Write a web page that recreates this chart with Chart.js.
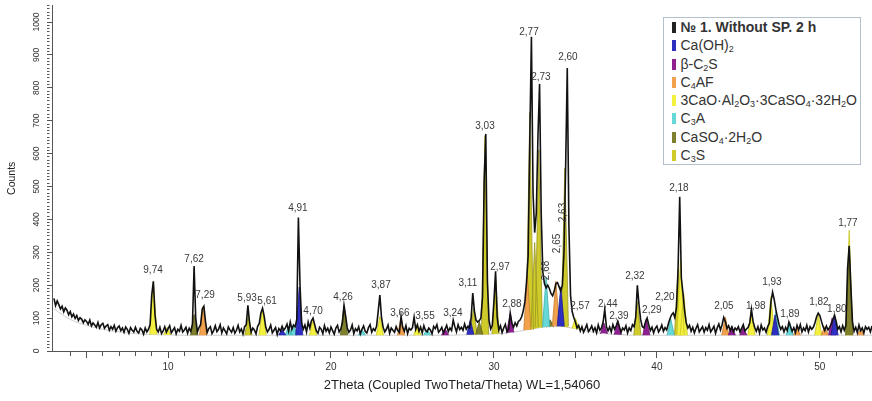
<!DOCTYPE html>
<html>
<head>
<meta charset="utf-8">
<script src="https://cdn.jsdelivr.net/npm/chart.js@4.4.1/dist/chart.umd.min.js"></script>
<style>
  body { margin: 0; background: #fff; }
  #wrap { position: relative; width: 872px; height: 401px; }
  #legend {
    position: absolute; left: 663px; top: 17px; width: 196px; height: 146px;
    border: 1px solid #b4bfcc; background: #fff; color: #333;
    font: 14px "Liberation Sans", Arial, sans-serif;
  }
  #legend .row { height: 18.3px; line-height: 18.3px; white-space: nowrap; }
  #legend .mk { display: inline-block; width: 3.5px; height: 11px; margin: 0 5px 0 8px; vertical-align: -1px; }
  #legend sub { font-size: 9px; vertical-align: -2px; line-height: 0; }
</style>
</head>
<body>
<div id="wrap">
  <canvas id="xrd" width="872" height="401"></canvas>
  <div id="legend"></div>
</div>
<script>
// measured pattern: start 2theta, step, counts
const twoThetaStart = 3.0;
const twoThetaStep = 0.1;
const counts = [
  160,138,152,141,128,136,119,131,124,110,
  120,104,112,99,108,93,101,97,86,95,
  90,81,94,76,85,79,72,87,70,80,
  84,69,76,80,63,74,66,78,60,71,
  76,62,70,57,73,66,54,71,63,58,
  72,60,55,69,64,51,70,58,66,80,
  170,212,110,66,58,72,53,61,74,57,
  68,77,55,63,71,52,66,60,78,58,
  64,72,54,69,60,82,258,100,58,71,
  80,128,136,90,56,68,74,53,62,77,
  59,66,80,55,70,61,52,73,64,57,
  71,54,63,78,58,67,52,74,80,139,
  88,57,70,64,52,75,84,116,130,106,
  72,58,66,79,55,63,71,50,68,61,
  75,63,70,82,60,88,66,79,74,96,
  406,200,84,66,79,58,88,70,92,100,
  80,61,54,72,66,53,77,60,69,55,
  73,62,51,70,78,58,66,86,139,106,
  70,57,64,79,53,68,61,74,52,66,
  76,60,55,71,80,57,68,62,76,122,
  170,102,72,58,66,79,54,70,63,57,
  74,62,56,105,72,60,77,53,69,64,
  71,103,66,80,60,73,55,77,62,58,
  70,64,52,75,68,80,57,63,72,55,
  66,78,59,70,62,94,74,58,80,65,
  72,63,82,66,75,70,100,176,122,94,
  88,92,100,165,520,660,210,92,67,78,
  150,242,102,64,77,56,70,81,58,66,
  115,84,72,86,76,90,94,104,122,150,
  210,290,640,955,480,360,420,650,812,420,
  240,205,192,200,190,175,168,182,205,208,
  195,182,200,300,560,860,380,170,120,102,
  88,70,78,61,74,57,68,80,59,66,
  76,60,71,55,79,63,70,88,127,74,
  61,73,58,80,66,76,90,74,57,70,
  64,77,55,70,62,80,74,102,200,142,
  96,74,70,88,100,80,62,72,55,69,
  76,58,66,79,60,71,64,82,98,110,
  116,102,132,250,469,222,176,122,86,70,
  78,60,72,55,69,80,58,66,74,57,
  71,63,80,58,66,75,54,70,82,64,
  80,102,90,68,77,62,73,58,70,64,
  74,58,69,80,61,67,72,86,127,90,
  72,60,74,55,79,64,70,57,74,84,
  150,179,156,126,102,80,66,74,58,72,
  62,88,74,60,71,56,78,64,80,58,
  70,62,78,58,74,66,72,86,104,115,
  108,90,74,62,76,64,72,82,96,109,
  90,66,74,58,77,63,78,250,320,200,
  90,60,72,56,79,62,70,55,74,66,
  72,58,76
];

// background line, one value per degree from 3
const bgStart = 3;
const bgCounts = [128,96,78,66,58,53,50,49,48,48,
  48,48,48,48,48,48,48,48,48,48,
  48,48,48,48,48,49,50,52,56,64,
  72,75,68,58,52,49,48,48,48,48,
  48,48,48,48,48,48,48,48,48,48,
  48,48];

// phases: peak positions (2theta) and heights (counts)
const phaseNames = ['Ca(OH)₂', 'β-C₂S', 'C₄AF', '3CaO·Al₂O₃·3CaSO₄·32H₂O', 'C₃A', 'CaSO₄·2H₂O', 'C₃S'];

const caohTheta = [17.0, 18.05, 28.55, 34.1, 47.25, 50.9];
const caohCounts = [66, 194, 95, 195, 110, 109];

const c2sTheta = [27.0, 31.0, 36.75, 37.6, 39.35, 44.6, 45.3, 50.75];
const c2sCounts = [68, 115, 85, 92, 98, 76, 72, 100];

const c4afTheta = [12.15, 24.3, 32.05, 33.8, 44.2, 48.6, 50.3, 52.5];
const c4afCounts = [135, 100, 230, 212, 103, 70, 74, 66];

const ettrTheta = [9.1, 9.95, 15.8, 18.9, 23.0, 25.3, 35.0, 41.45, 41.65, 45.8, 47.0, 49.9, 51.8];
const ettrCounts = [212, 72, 128, 98, 105, 82, 100, 281, 175, 122, 165, 110, 367];

const c3aTheta = [17.4, 17.7, 21.9, 25.9, 33.2, 40.85, 47.3, 48.15];
const c3aCounts = [75, 80, 66, 66, 225, 98, 120, 88];

const gypsTheta = [11.6, 20.8, 29.1, 33.45, 51.8];
const gypsCounts = [111, 139, 90, 95, 315];

const c3sTheta = [14.93, 28.75, 29.45, 30.1, 32.2, 32.5, 32.75, 34.35, 38.8, 41.3];
const c3sCounts = [108, 130, 655, 225, 725, 330, 611, 556, 150, 250];

// peak labels (d, A)
const peakLabels = ['9,74','7,62','7,29','5,93','5,61','4,91','4,70','4,26','3,87','3,66','3,55','3,24',
  '3,11','3,03','2,97','2,88','2,77','2,73','2,60','2,57','2,44','2,39','2,32','2,29','2,20','2,18',
  '2,05','1,98','1,93','1,89','1,82','1,80','1,77'];
const labelTheta = [9.08,11.6,12.27,14.85,16.08,17.97,18.9,20.74,23.07,24.23,25.77,27.48,
  28.4,29.45,30.37,31.1,32.15,32.88,34.54,35.28,36.99,37.67,38.65,39.69,40.49,41.35,
  44.11,46.07,47.06,48.16,49.94,51.04,51.72];
const labelCounts = [245,279,170,160,152,433,121,164,200,115,106,115,
  206,682,255,142,970,833,894,136,142,106,227,124,164,494,
  136,136,209,112,149,127,388];
const rotLabels = ['2,68', '2,65', '2,63'];
const rotTheta = [33.19, 33.87, 34.23];
const rotCounts = [245, 327, 421];

const phaseColors = ['#2e2ec0', '#8e2090', '#f2a24c', '#f4f040', '#66d8d8', '#80802c', '#cfcb2a'];
const phaseBorders = ['#1c1c90', '#6a1070', '#c77d2e', '#c8c420', '#3fb0b0', '#5c5c1c', '#9a9620'];
const peakHalfWidth = 0.22;
const fontFamily = '"Liberation Sans", Arial, sans-serif';

let patternPoints = counts.map((c, i) => ({ x: +(twoThetaStart + i * twoThetaStep).toFixed(2), y: c }));
let bgPoints = bgCounts.map((c, i) => ({ x: bgStart + i, y: c }));

function peakPoints(theta, heights) {
    let pts = [];
    theta.forEach((t, i) => {
        let base = bgCounts[Math.min(bgCounts.length - 1, Math.max(0, Math.round(t) - bgStart))];
        pts.push({ x: t - peakHalfWidth, y: base });
        pts.push({ x: t, y: heights[i] });
        pts.push({ x: t + peakHalfWidth, y: base });
        pts.push({ x: t + peakHalfWidth, y: null });
    });
    return pts;
}

const phaseData = [
    peakPoints(caohTheta, caohCounts),
    peakPoints(c2sTheta, c2sCounts),
    peakPoints(c4afTheta, c4afCounts),
    peakPoints(ettrTheta, ettrCounts),
    peakPoints(c3aTheta, c3aCounts),
    peakPoints(gypsTheta, gypsCounts),
    peakPoints(c3sTheta, c3sCounts)
];
// drawing order: first dataset ends up on top
const drawOrder = [0, 1, 2, 4, 5, 3, 6];
const bgIndex = drawOrder.length + 1;

let datasets = [{
    label: '№ 1. Without SP. 2 h',
    data: patternPoints,
    borderColor: '#111',
    borderWidth: 1.6,
    pointRadius: 0,
    fill: false
}];
drawOrder.forEach(p => {
    datasets.push({
        label: phaseNames[p],
        data: phaseData[p],
        borderColor: phaseBorders[p],
        backgroundColor: phaseColors[p],
        borderWidth: 0.8,
        pointRadius: 0,
        fill: bgIndex
    });
});
datasets.push({
    label: 'background',
    data: bgPoints,
    borderColor: '#cccccc',
    borderWidth: 1,
    pointRadius: 0,
    tension: 0.4,
    fill: false
});

const peakLabelPlugin = {
    id: 'peakLabels',
    afterDatasetsDraw(chart) {
        let ctx = chart.ctx;
        let xs = chart.scales.x, ys = chart.scales.y;
        ctx.save();
        ctx.font = '10px ' + fontFamily;
        ctx.fillStyle = '#3a3a3a';
        ctx.textAlign = 'center';
        ctx.textBaseline = 'middle';
        peakLabels.forEach((t, i) => {
            ctx.fillText(t, xs.getPixelForValue(labelTheta[i]), ys.getPixelForValue(labelCounts[i]));
        });
        rotLabels.forEach((t, i) => {
            ctx.save();
            ctx.translate(xs.getPixelForValue(rotTheta[i]), ys.getPixelForValue(rotCounts[i]));
            ctx.rotate(-Math.PI / 2);
            ctx.fillText(t, 0, 0);
            ctx.restore();
        });
        ctx.restore();
    }
};

Chart.defaults.font.family = fontFamily;

let ctx = document.querySelector('#xrd').getContext('2d');
let myChart = new Chart(ctx, {
    type: 'line',
    data: { datasets: datasets },
    options: {
        responsive: false,
        animation: false,
        events: [],
        layout: { padding: { left: 0, right: 0, top: 5, bottom: 0 } },
        plugins: { legend: { display: false }, tooltip: { enabled: false } },
        scales: {
            x: {
                type: 'linear',
                min: 2.88,
                max: 53.2,
                border: { color: '#555', width: 1 },
                grid: {
                    drawOnChartArea: false,
                    tickLength: 7,
                    tickColor: '#555',
                    tickBorderDash: c => (c.tick && c.tick.value % 5 === 0) ? [] : [4, 10]
                },
                afterBuildTicks: s => { s.ticks = s.ticks.filter(t => Number.isInteger(t.value)); },
                ticks: {
                    stepSize: 1,
                    autoSkip: false,
                    maxRotation: 0,
                    padding: 3,
                    color: '#333',
                    font: { size: 10 },
                    callback: v => (v % 10 === 0 ? v : '')
                },
                title: {
                    display: true,
                    text: '2Theta (Coupled TwoTheta/Theta) WL=1,54060',
                    color: '#222',
                    font: { size: 13 },
                    padding: { top: 1.4, bottom: 8 }
                }
            },
            y: {
                min: 0,
                max: 1050,
                border: { color: '#555', width: 1 },
                grid: {
                    drawOnChartArea: false,
                    tickLength: 5,
                    tickColor: '#555',
                    tickBorderDash: c => (c.tick && c.tick.value % 100 === 0) ? [] : [2.5, 10]
                },
                ticks: {
                    stepSize: 10,
                    autoSkip: false,
                    minRotation: 90,
                    maxRotation: 90,
                    crossAlign: 'center',
                    padding: 0.5,
                    color: '#333',
                    font: { size: 8.5 },
                    callback: v => (v % 100 === 0 ? v : '')
                },
                title: {
                    display: true,
                    text: 'Counts',
                    color: '#222',
                    font: { size: 10.5 },
                    padding: { top: 5.7, bottom: 17.5 }
                }
            }
        }
    },
    plugins: [peakLabelPlugin]
});

// legend box
const legendNames = ['№ 1. Without SP. 2 h'].concat(phaseNames);
const legendColors = ['#222'].concat(phaseColors);
let legendHtml = '';
legendNames.forEach((n, i) => {
    let txt = n.replace(/[\u2080-\u2089]/g, ch => '<sub>' + (ch.charCodeAt(0) - 0x2080) + '</sub>');
    let weight = i === 0 ? 'font-weight:bold;' : '';
    legendHtml += '<div class="row" style="' + weight + '"><span class="mk" style="background:' + legendColors[i] + '"></span>' + txt + '</div>';
});
document.querySelector('#legend').innerHTML = legendHtml;
</script>
</body>
</html>
